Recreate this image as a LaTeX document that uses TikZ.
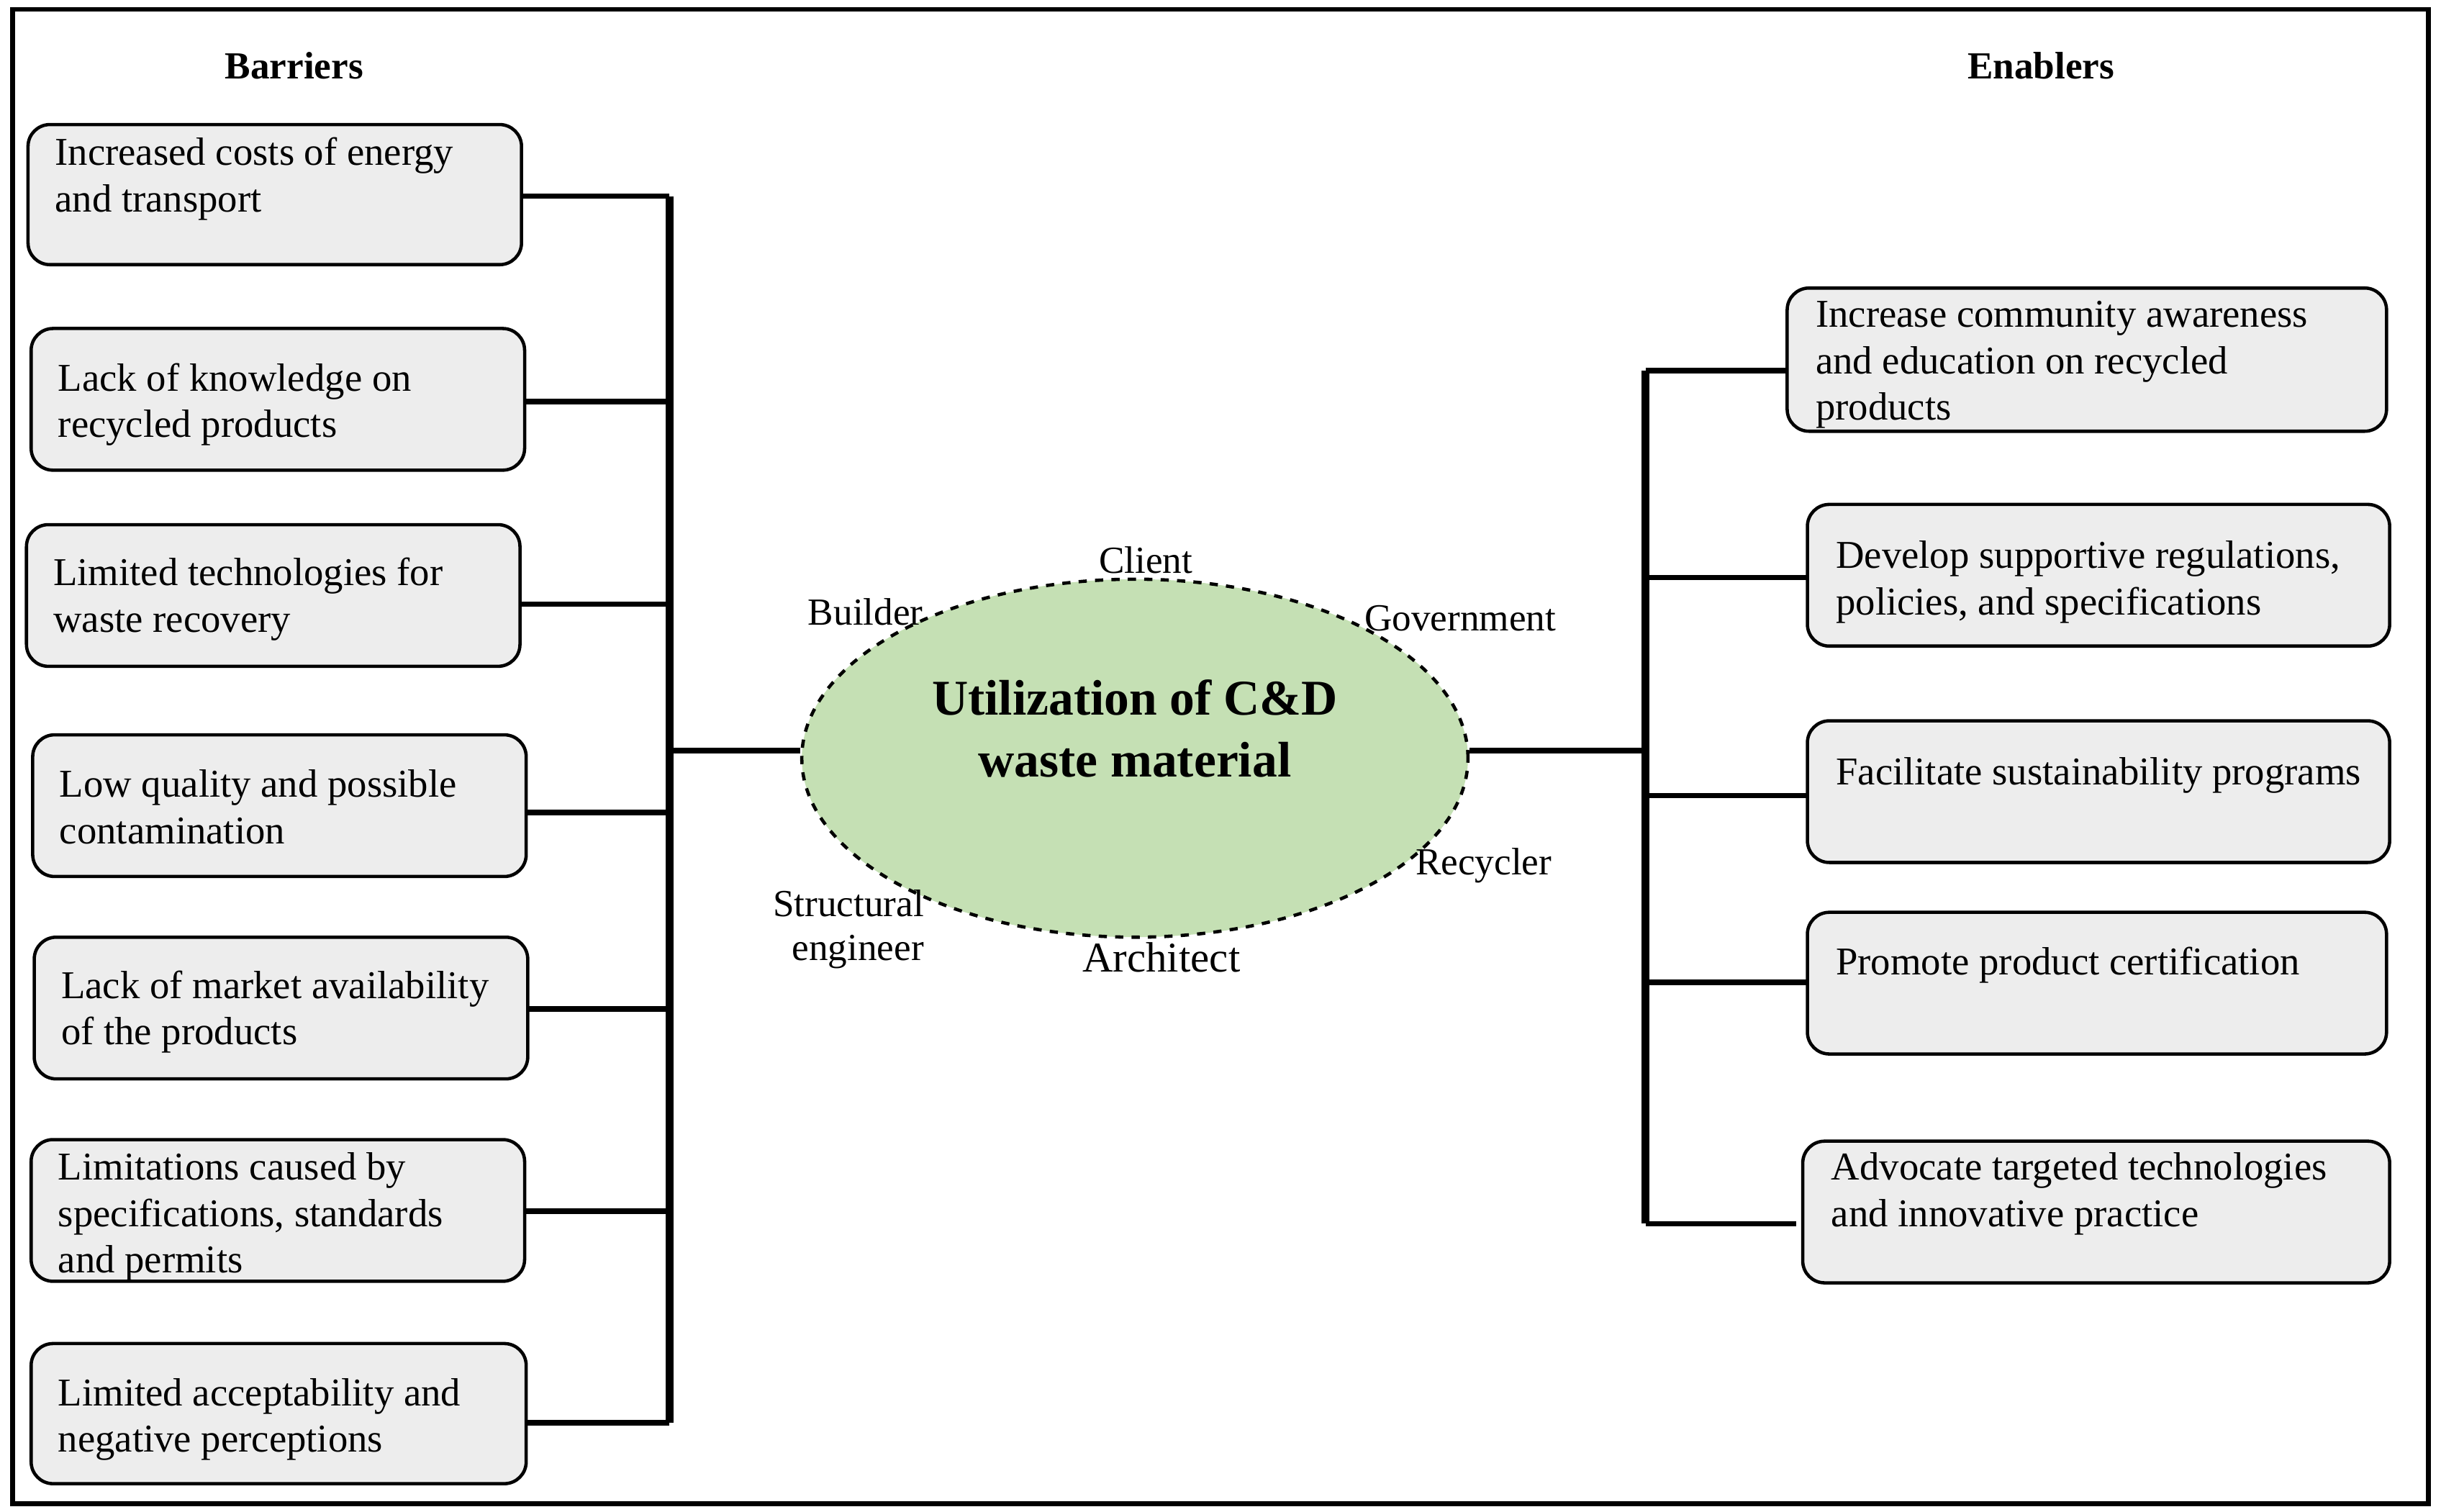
\documentclass[tikz,border=0pt]{standalone}
\usepackage{fontspec}
\setmainfont{Liberation Serif}
\usetikzlibrary{shapes.geometric}
\begin{document}
\begin{tikzpicture}[x=0.02cm,y=-0.02cm,
 box/.style={draw,line width=1.2pt,rounded corners=8pt,fill=boxgray},
 txt/.style={anchor=north west,inner sep=0pt,align=left,font=\fontsize{14.4}{17}\selectfont},
 lab/.style={inner sep=0pt,font=\fontsize{14}{16}\selectfont,align=center},
 bus/.style={line width=3pt},
 con/.style={line width=2pt}]
\definecolor{boxgray}{HTML}{EDEDED}
\definecolor{elgreen}{HTML}{C5E0B4}
\useasboundingbox (0,0) rectangle (1568,971);
\draw[line width=1.8pt] (8,6) rectangle (1560,966);
\node[font=\bfseries\fontsize{14}{16}\selectfont] (tb) at (189,42) {Barriers};
\node[font=\bfseries\fontsize{14}{16}\selectfont] (te) at (1311,42) {Enablers};
% left boxes
\foreach \n/\xa/\xb/\ya/\yb/\o/\t in {
 b1/18/335/80/170/8/{Increased costs of energy\\and transport},
 b2/20/337/211/302/22/{Lack of knowledge on\\recycled products},
 b3/17/334/337/428/21/{Limited technologies for\\waste recovery},
 b4/21/338/472/563/22/{Low quality and possible\\contamination},
 b5/22/339/602/693/21/{Lack of market availability\\of the products},
 b6/20/337/732/823/8/{Limitations caused by\\specifications, standards\\and permits},
 b7/20/338/863/953/22/{Limited acceptability and\\negative perceptions}}{
 \draw[box] (\xa,\ya) rectangle (\xb,\yb);
 \node[txt] (\n) at (\xa+17,\ya+\o) {\t};
}
\foreach \n/\xa/\xb/\ya/\yb/\o/\t in {
 e1/1148/1533/185/277/8/{Increase community awareness\\and education on recycled\\products},
 e2/1161/1535/324/415/23/{Develop supportive regulations,\\policies, and specifications},
 e3/1161/1535/463/554/23/{Facilitate sustainability programs},
 e4/1161/1533/586/677/22/{Promote product certification},
 e5/1158/1535/733/824/7/{Advocate targeted technologies\\and innovative practice}}{
 \draw[box] (\xa,\ya) rectangle (\xb,\yb);
 \node[txt] (\n) at (\xa+18,\ya+\o) {\t};
}
% ellipse
\node[draw,dashed,line width=1.2pt,fill=elgreen,ellipse,minimum width=8.56cm,minimum height=4.6cm,inner sep=0pt] (c) at (729,487) {};
\node[font=\bfseries\fontsize{18.3}{22.7}\selectfont,align=center] (ct) at (729,468) {Utilization of C\&D\\waste material};
\node[lab] (l1) at (736,360) {Client};
\node[lab] (l2) at (556,393) {Builder};
\node[lab] (l3) at (938,397) {Government};
\node[lab] (l4) at (953,556) {Recycler};
\node[lab,align=right] (l5) at (545,597) {Structural\\engineer};
\node[lab,font=\fontsize{15.5}{17}\selectfont] (l6) at (746,615) {Architect};
% left bus
\coordinate (lt) at (430,126); \coordinate (lb) at (430,914);
\draw[bus] (lt) -- (lb);
\foreach \x/\y in {335/126,337/258,334/388,338/522,339/648,337/778,338/914}
 \draw[con] (\x,\y) -- (430,\y);
\draw[con] (430,482) -- (c.west |- 0,482);
% right bus
\coordinate (rt) at (1057,238); \coordinate (rb) at (1057,786);
\draw[bus] (rt) -- (rb);
\foreach \x/\y in {1148/238,1161/371,1161/511,1161/631,1154/786}
 \draw[con] (1057,\y) -- (\x,\y);
\draw[con] (c.east |- 0,482) -- (1057,482);
\end{tikzpicture}
\end{document}
